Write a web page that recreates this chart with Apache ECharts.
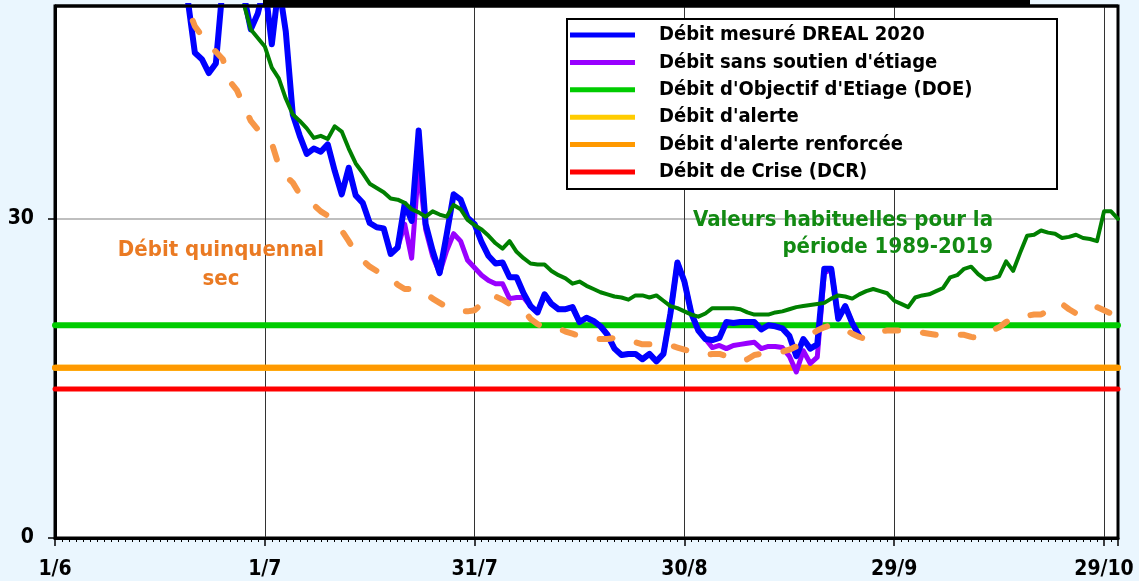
<!DOCTYPE html>
<html>
<head>
<meta charset="utf-8">
<script src="https://cdn.jsdelivr.net/npm/echarts@6/dist/echarts.min.js"></script>
<style>
html,body{margin:0;padding:0;background:#eaf6fe;}
#chart{width:1139px;height:581px;}
</style>
</head>
<body>
<div id="chart"></div>
<script>
// ---- data ----
const xTickLabels = ['1/6', '1/7', '31/7', '30/8', '29/9', '29/10']; // every 30 days from 1/6
const yTickLabels = [0, 30];

// Débit mesuré DREAL 2020 (day index from 1/6, starting at day 18)
const mesureStart = 18;
const mesure = [58, 50.5, 45.6, 45.0, 43.7, 44.6, 52, 56, 55, 51,
  47.8, 49.3, 52, 46.4, 52, 47.6, 39.8, 37.8, 36.1, 36.6,
  36.3, 37.0, 34.5, 32.3, 34.8, 32.2, 31.5, 29.6, 29.2, 29.1,
  26.7, 27.3, 31.4, 29.8, 38.3, 29.5, 27.0, 24.9, 28.5, 32.3,
  31.8, 30.1, 29.5, 27.8, 26.5, 25.8, 25.9, 24.5, 24.5, 23.0,
  21.8, 21.2, 22.9, 22.0, 21.5, 21.5, 21.7, 20.3, 20.7, 20.4,
  19.9, 19.1, 17.8, 17.2, 17.3, 17.3, 16.8, 17.3, 16.6, 17.3,
  21.1, 25.9, 24.1, 21.1, 19.5, 18.7, 18.6, 18.8, 20.3, 20.2,
  20.3, 20.3, 20.3, 19.6, 20.0, 19.9, 19.7, 19.0, 17.1, 18.7,
  17.8, 18.2, 25.3, 25.3, 20.6, 21.8, 20.2, 19.0];

// Débit sans soutien d'étiage (starting at day 49)
const sansSoutienStart = 49;
const sansSoutien = [27.3, 29.5, 26.3, 35.0, 29.0, 26.5, 24.9, 27.0, 28.6, 27.9,
  26.1, 25.4, 24.7, 24.2, 23.9, 23.9, 22.5, 22.6, 22.6, 21.8,
  21.2, 22.9, 22.0, 21.5, 21.5, 21.7, 20.3, 20.7, 20.4, 19.9,
  19.1, 17.8, 17.2, 17.3, 17.3, 16.8, 17.3, 16.6, 17.3, 21.1,
  25.9, 24.1, 21.1, 19.5, 18.7, 17.9, 18.1, 17.8, 18.1, 18.2,
  18.3, 18.4, 17.8, 18.0, 18.0, 17.9, 17.1, 15.6, 17.6, 16.4,
  17.0, 24.9, 25.3, 20.6, 21.8, 20.2, 19.0];

// Valeurs habituelles 1989-2019 (starting at day 26)
const habituelStart = 26;
const habituel = [53, 50.2, 47.8, 47.0, 46.2, 44.2, 43.2, 41.3, 39.8, 39.2,
  38.5, 37.6, 37.8, 37.5, 38.7, 38.2, 36.6, 35.2, 34.3, 33.3,
  32.9, 32.5, 31.9, 31.8, 31.5, 30.9, 30.6, 30.2, 30.7, 30.4,
  30.2, 31.3, 30.9,
  29.9, 29.4, 29.0, 28.4, 27.7, 27.2, 27.9, 26.9, 26.3, 25.8,
  25.7, 25.7, 25.1, 24.7, 24.4, 23.9, 24.1, 23.7, 23.4, 23.1,
  22.9, 22.7, 22.6, 22.4, 22.8, 22.8, 22.6, 22.8, 22.3, 21.8,
  21.6, 21.3, 21.0,
  20.8, 21.1, 21.6, 21.6, 21.6, 21.6, 21.5, 21.2, 21.0, 21.0,
  21.0, 21.2, 21.3, 21.5, 21.7, 21.8, 21.9, 22.0, 22.1, 22.5,
  22.8, 22.7, 22.5, 22.9, 23.2, 23.4, 23.2,
  23.0, 22.3, 22.0, 21.7, 22.6, 22.8, 22.9, 23.2, 23.5, 24.5,
  24.7, 25.3, 25.5, 24.8, 24.3, 24.4, 24.6, 26.0, 25.1, 26.8,
  28.4, 28.5, 28.9, 28.7, 28.6, 28.2, 28.3, 28.5, 28.2, 28.1,
  27.9, 30.7, 30.7, 30.0];

// Débit quinquennal sec (starting at day 18)
const quinquennalStart = 18;
const quinquennal = [52, 49.8, 48.1, 47.2, 46.4, 45.7, 45.0, 42.9, 42.1, 40.6,
  39.2, 38.4, 37.8, 37.1, 35.0, 34.0, 33.4, 32.3, 31.7, 31.3,
  30.7, 30.3, 29.6, 28.9, 27.9, 26.8, 26.1, 25.5, 25.1, 24.9,
  24.5, 23.8, 23.4, 23.4, 23.3, 23.0, 22.5, 22.1, 21.7, 21.5,
  21.3, 21.3, 21.4, 22.0, 22.8, 22.7, 22.4, 22.0, 21.7, 21.4,
  20.6, 20.1, 19.8, 19.7, 19.7, 19.4, 19.2, 19.0, 18.9, 18.7,
  18.7, 18.7, 18.8, 18.8, 18.7, 18.4, 18.2, 18.2, 18.3, 18.3,
  18.1, 17.9, 17.7, 17.5, 17.3, 17.2, 17.3, 17.3, 17.1, 16.8,
  16.6, 16.8, 17.2, 17.3, 17.4, 17.4, 17.5, 17.7, 18.0, 18.6,
  19.1, 19.5, 19.8, 20.0, 19.9, 19.6, 19.2, 18.9, 18.7, 19.0,
  19.4, 19.5, 19.5, 19.5, 19.4, 19.3, 19.3, 19.2, 19.1, 19.1,
  19.1, 19.1, 19.1, 18.9, 18.8, 19.2, 19.5, 19.8, 20.3, 20.7,
  20.9, 20.9, 21.0, 21.0, 21.4, 22.0, 22.0, 21.5, 21.1, 21.6,
  21.8, 21.7, 21.4, 21.1, 20.8];

// thresholds
const periodDays = [0, 152];
const seuilDOE = 20;
const seuilAlerte = 16;
const seuilAlerteRenforcee = 16;
const seuilCrise = 14;

const names = {
  mesure: 'Débit mesuré DREAL 2020',
  sans: "Débit sans soutien d'étiage",
  doe: "Débit d'Objectif d'Etiage (DOE)",
  alerte: "Débit d'alerte",
  renf: "Débit d'alerte renforcée",
  crise: 'Débit de Crise (DCR)'
};

// ---- helpers ----
const FONT = "'DejaVu Sans Condensed', 'DejaVu Sans', sans-serif";
function seq(start, vals) { return vals.map((v, i) => [start + i, v]); }
function flat(v) { return periodDays.map(d => [d, v]); }

const chart = echarts.init(document.getElementById('chart'), null, {renderer: 'canvas'});

function lineSeries(name, data, color, width, z, extra) {
  return Object.assign({
    name: name, type: 'line', data: data, symbol: 'none', showSymbol: false,
    clip: true, silent: true, animation: false, z: z,
    itemStyle: {color: color},
    lineStyle: {color: color, width: width, join: 'round', cap: 'round'}
  }, extra || {});
}

const option = {
  backgroundColor: '#eaf6fe',
  animation: false,
  grid: {left: 55, right: 21, top: 6, bottom: 43, show: true,
    backgroundColor: '#ffffff', borderColor: '#000', borderWidth: 3, containLabel: false},
  xAxis: {
    type: 'value', min: 0, max: 152, interval: 30,
    axisLine: {show: true, onZero: false, lineStyle: {color: '#000', width: 3}},
    axisTick: {show: true, length: 8, lineStyle: {color: '#000', width: 1.5}},
    minorTick: {show: true, splitNumber: 30, length: 4, lineStyle: {color: '#000', width: 1}},
    splitLine: {show: true, showMinLine: false, showMaxLine: false, lineStyle: {color: '#333', width: 1}},
    axisLabel: {
      margin: 21, color: '#000', fontFamily: FONT, fontWeight: 'bold', fontSize: 21,
      showMaxLabel: false,
      formatter: v => (v % 30 === 0 && xTickLabels[v / 30] !== undefined) ? xTickLabels[v / 30] : ''
    }
  },
  yAxis: {
    type: 'value', min: 0, max: 50, interval: 30,
    axisLine: {show: true, lineStyle: {color: '#000', width: 3}},
    axisTick: {show: true, length: 7, lineStyle: {color: '#000', width: 1.5}},
    splitLine: {show: true, showMinLine: false, showMaxLine: false, lineStyle: {color: '#aaaaaa', width: 1.5}},
    axisLabel: {
      margin: 21, color: '#000', fontFamily: FONT, fontWeight: 'bold', fontSize: 21,
      showMaxLabel: false,
      formatter: v => yTickLabels.indexOf(v) >= 0 ? String(v) : ''
    }
  },
  legend: {
    orient: 'vertical', left: 567, top: 19,
    padding: [6, 8, 7, 3],
    itemWidth: 65, itemHeight: 5, itemGap: 7.4,
    backgroundColor: '#fff', borderColor: '#000', borderWidth: 2,
    selectedMode: false,
    icon: 'rect',
    textStyle: {fontFamily: FONT, fontWeight: 'bold', fontSize: 20, color: '#000',
      lineHeight: 20, width: 390, padding: [0, 0, 0, 19]},
    data: [names.mesure, names.sans, names.doe, names.alerte, names.renf, names.crise]
  },
  graphic: [
    {type: 'rect', z: 200, shape: {x: 263, y: 0, width: 767, height: 6}, style: {fill: '#000'}},
    {type: 'rect', z: 200, shape: {x: 55, y: 4.5, width: 1063, height: 3}, style: {fill: '#000'}},
    {type: 'text', z: 100, x: 221, y: 265,
      style: {text: 'Débit quinquennal\nsec', fill: '#ea7a23', font: "bold 22px " + FONT,
        align: 'center', verticalAlign: 'middle', lineHeight: 29}},
    {type: 'text', z: 100, x: 993, y: 234,
      style: {text: 'Valeurs habituelles pour la\npériode 1989-2019', fill: '#128a12', font: "bold 22px " + FONT,
        align: 'right', verticalAlign: 'middle', lineHeight: 27}}
  ],
  series: [
    lineSeries(names.alerte, flat(seuilAlerte), '#ffcc00', 6, 2),
    lineSeries(names.crise, flat(seuilCrise), '#ff0000', 5, 3),
    lineSeries(names.renf, flat(seuilAlerteRenforcee), '#ff9900', 6, 3),
    lineSeries(names.doe, flat(seuilDOE), '#00cc00', 6, 3),
    lineSeries(names.sans, seq(sansSoutienStart, sansSoutien), '#9900ff', 5, 4),
    lineSeries(names.mesure, seq(mesureStart, mesure), '#0000ff', 6, 5),
    lineSeries('Valeurs habituelles 1989-2019', seq(habituelStart, habituel), '#008000', 4, 6),
    lineSeries('Débit quinquennal sec', seq(quinquennalStart, quinquennal), '#f79646', 6, 7,
      {lineStyle: {color: '#f79646', width: 6, type: [13, 25], cap: 'round', join: 'round'}})
  ]
};
chart.setOption(option);
</script>
</body>
</html>
